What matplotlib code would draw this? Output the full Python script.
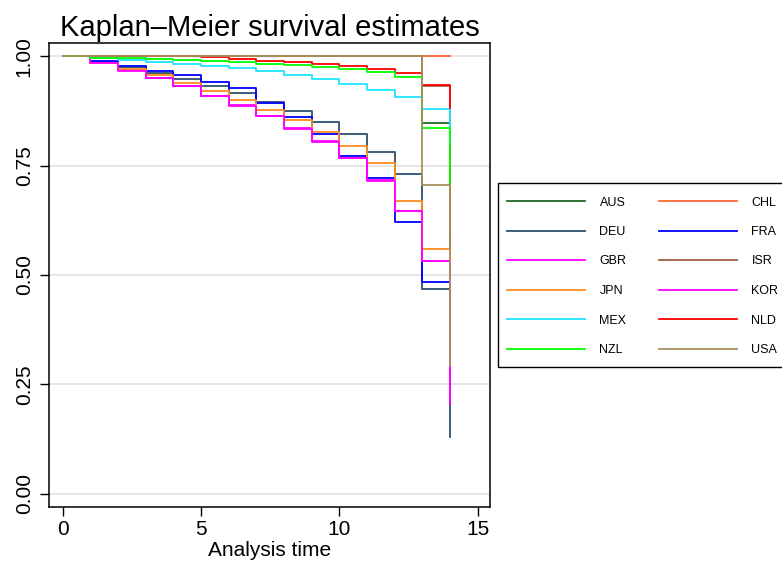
import matplotlib
matplotlib.use("Agg")
import matplotlib.pyplot as plt
from matplotlib.patches import Rectangle
import numpy as np

plt.rcParams["font.family"] = ["Liberation Sans", "DejaVu Sans"]

# analysis time (years) and Kaplan-Meier survival by country
times = np.arange(15)

countries = ["AUS", "CHL", "DEU", "FRA", "GBR", "ISR",
             "JPN", "KOR", "MEX", "NLD", "NZL", "USA"]

aus = [1, 1, 1, 1, 1, 1, 1, 1, 1, 1, 1, 1, 1, 0.847, 0.55]
chl = [1, 1, 1, 1, 1, 1, 1, 1, 1, 1, 1, 1, 1, 1, 1]
deu = [1, 0.987, 0.975, 0.961, 0.947, 0.931, 0.915, 0.896, 0.874, 0.849, 0.821, 0.781, 0.730, 0.467, 0.129]
fra = [1, 0.990, 0.978, 0.965, 0.956, 0.942, 0.928, 0.894, 0.861, 0.822, 0.772, 0.721, 0.621, 0.483, 0.35]
gbr = [1, 0.984, 0.968, 0.951, 0.932, 0.910, 0.888, 0.864, 0.835, 0.805, 0.768, 0.716, 0.647, 0.532, 0.30]
isr = [1, 1, 1, 1, 1, 1, 1, 1, 1, 1, 1, 1, 1, 0.932, 0.6]
jpn = [1, 0.985, 0.971, 0.956, 0.939, 0.920, 0.900, 0.878, 0.853, 0.826, 0.794, 0.755, 0.670, 0.559, 0.40]
kor = [1, 0.984, 0.967, 0.950, 0.931, 0.909, 0.887, 0.863, 0.834, 0.804, 0.767, 0.715, 0.646, 0.531, 0.206]
mex = [1, 0.995, 0.992, 0.986, 0.982, 0.978, 0.972, 0.965, 0.957, 0.947, 0.937, 0.923, 0.906, 0.880, 0.80]
nld = [1, 1, 1, 1, 1, 0.997, 0.994, 0.990, 0.986, 0.982, 0.977, 0.971, 0.961, 0.934, 0.881]
nzl = [1, 0.996, 0.995, 0.993, 0.991, 0.989, 0.986, 0.983, 0.980, 0.976, 0.971, 0.963, 0.953, 0.835, 0.70]
usa = [1, 1, 1, 1, 1, 1, 1, 1, 1, 1, 1, 1, 1, 0.706, 0.293]

series = [aus, chl, deu, fra, gbr, isr, jpn, kor, mex, nld, nzl, usa]

colors = ["#1f6b25", "#ff6433", "#2e4f6e", "#0000ff", "#ff00ff", "#a0603e",
          "#ff8a1e", "#ff00ff", "#1fe3ff", "#ff0000", "#00ff00", "#a88f5c"]

yticks = [0, 0.25, 0.5, 0.75, 1.0]
xticks = [0, 5, 10, 15]

W, H = 782, 566
fig = plt.figure(figsize=(W / 100, H / 100), dpi=100)
ax = fig.add_axes([49 / W, 59 / H, 441 / W, 464 / H])

lines = {}
for name, vals, col in zip(countries, series, colors):
    ln, = ax.step(times, vals, where="post", color=col, lw=1.3, label=name, zorder=3)
    lines[name] = ln

ax.set_xlim(-0.5, 15.45)
ax.set_ylim(-0.03, 1.03)
ax.set_xticks(xticks)
ax.set_yticks(yticks)
ax.set_yticklabels([f"{v:.2f}" for v in yticks], rotation=90, va="center")
ax.tick_params(axis="both", labelsize=15, length=6.5, width=1, direction="out")
ax.tick_params(axis="y", pad=4.5)
ax.tick_params(axis="x", pad=3)
ax.yaxis.grid(True, color="#e3e3e3", lw=1.3, zorder=0)
ax.set_axisbelow(True)
for sp in ax.spines.values():
    sp.set_linewidth(1.1)

ax.set_xlabel("Analysis time", fontsize=15, labelpad=1.5)
ax.set_title("Kaplan\u2013Meier survival estimates", fontsize=21, pad=5)

# row-wise legend order needs column-major handle order
order = ["AUS", "DEU", "GBR", "JPN", "MEX", "NZL",
         "CHL", "FRA", "ISR", "KOR", "NLD", "USA"]
leg = fig.legend([lines[c] for c in order], order, ncol=2,
                 loc="upper left", bbox_to_anchor=(507 / W, 1 - 196.5 / H),
                 fontsize=9, frameon=False,
                 handlelength=6.2, handletextpad=1.2, columnspacing=2.6,
                 labelspacing=1.4, borderpad=0, borderaxespad=0)

# legend box, runs past the right edge like the original
fig.patches.append(Rectangle((498 / W, 1 - 367 / H), 320 / W, 184 / H,
                             transform=fig.transFigure, fill=False,
                             edgecolor="black", lw=1.0))

fig.savefig("out.png", dpi=100)
